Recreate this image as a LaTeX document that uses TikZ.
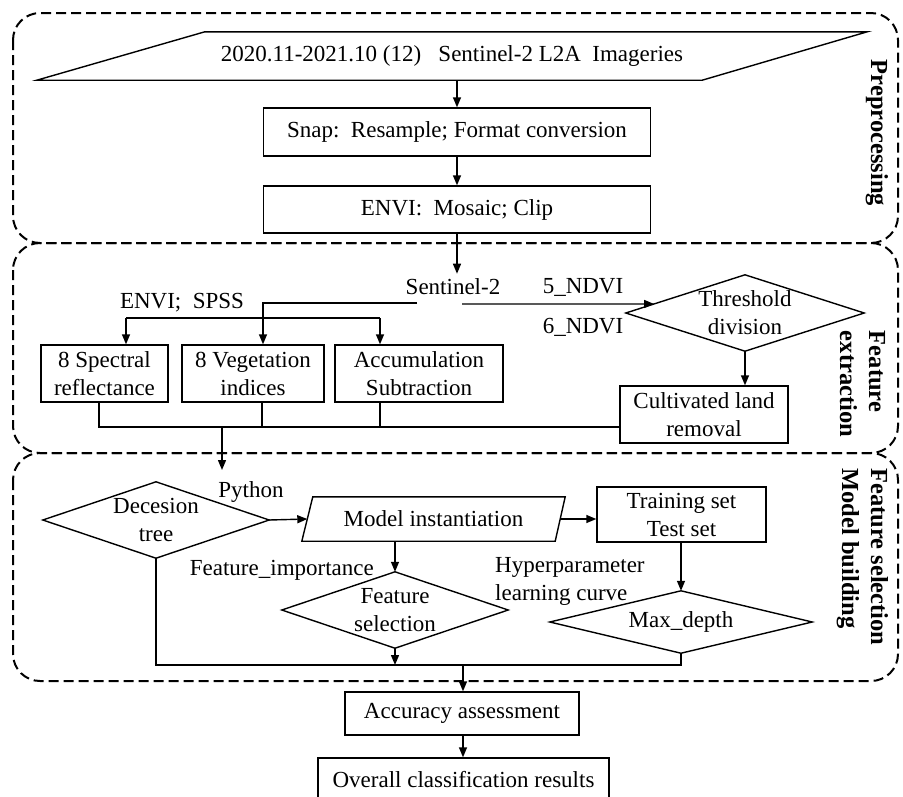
\documentclass[tikz,border=0pt]{standalone}
\usepackage{fontspec}
\setmainfont{Liberation Serif}
\usetikzlibrary{arrows.meta}
\newcommand\myfs{\fontsize{23}{28}\selectfont}
\newcommand\mybfs{\fontsize{24.5}{29}\selectfont\bfseries}
\begin{document}
\begin{tikzpicture}[x=1pt,y=-1pt,
  box/.style={draw, line width=1.4pt, rectangle, inner sep=0pt, align=center, font=\myfs},
  lbl/.style={inner sep=0pt, align=center, font=\myfs},
  conn/.style={line width=1.4pt},
  arr/.style={conn, -{Triangle[length=10pt,width=8pt]}},
  dbox/.style={line width=2pt, dash pattern=on 10pt off 5pt, rounded corners=27pt},
  side/.style={font=\mybfs, rotate=-90, align=left, inner sep=0pt}]
\useasboundingbox (0,0) rectangle (903,796);
\clip (0,0) rectangle (903,796);

% dashed group frames
\draw[dbox] (13,13) rectangle (898,243);
\draw[dbox] (13,243) rectangle (898,453);
\draw[dbox] (13,453) rectangle (898,681);
\node[side] (lpre) at (877,133) {Preprocessing};
\node[side] (lfe) at (862.5,384) {Feature\\extraction};
\node[side] (lfs) at (862.5,557) {Feature selection\\Model building};

% preprocessing
\node[lbl, minimum width=830pt, minimum height=48pt] (img) at (452,56) {2020.11-2021.10 (12)\ \ \ Sentinel-2 L2A\ \ Imageries};
\draw[conn] (img.south west) -- ([xshift=168pt]img.north west) -- (img.north east) -- ([xshift=-165pt]img.south east) -- cycle;
\node[box, minimum width=387pt, minimum height=48pt] (snap) at (457,132) {Snap:\ \ Resample; Format conversion};
\node[box, minimum width=387pt, minimum height=47pt] (envi) at (457,209.5) {ENVI:\ \ Mosaic; Clip};
\draw[arr] (snap.north |- img.south) -- (snap.north);
\draw[arr] (snap.south) -- (envi.north);

% feature extraction
\node[lbl, inner sep=5pt] (s2) at (453,287) {Sentinel-2};
\draw[arr] (envi.south) -- (envi.south |- s2.north);
\node[lbl] (envispss) at (182,303) {ENVI;\ \ SPSS};
\node[lbl] (n5) at (583,287) {5\_NDVI};
\node[lbl] (n6) at (583,327) {6\_NDVI};
\node[box, minimum width=127pt, minimum height=57pt] (spec) at (104.5,373.5) {8 Spectral\\reflectance};
\node[box, minimum width=142pt, minimum height=57pt] (veg) at (253,373.5) {8 Vegetation\\indices};
\node[box, minimum width=168pt, minimum height=57pt] (acc) at (419,373.5) {Accumulation\\Subtraction};
\node[lbl, minimum width=238pt, minimum height=76pt] (thr) at (745,313) {Threshold\\division};
\draw[conn] (thr.west) -- (thr.north) -- (thr.east) -- (thr.south) -- cycle;
\node[box, minimum width=168pt, minimum height=57pt] (cult) at (704,414.5) {Cultivated land\\removal};

\coordinate (s2l) at (417,303);
\coordinate (vx) at (263,303);
\draw[arr] (s2l) -- (vx) -- (vx |- veg.north);
\coordinate (bl) at (126,318);
\coordinate (br) at (380,318);
\draw[conn] (bl) -- (br);
\draw[arr] (bl) -- (bl |- spec.north);
\draw[arr] (br) -- (br |- acc.north);
\coordinate (s2r) at (462,304);
\path (thr.west) -- (thr.north) coordinate[pos=0.237] (thrin);
\draw[arr] (s2r) -- (thrin);
\draw[arr] (thr.south) -- (cult.north -| thr.south);

\coordinate (c1) at (99,427);
\coordinate (c2) at (262,427);
\coordinate (c3) at (380,427);
\coordinate (c4) at (222,427);
\draw[conn] (spec.south -| c1) -- (c1) -- (cult.west |- c1);
\draw[conn] (veg.south -| c2) -- (c2);
\draw[conn] (acc.south -| c3) -- (c3);
\coordinate (dtop) at (222,470);
\draw[arr] (c4) -- (dtop);

% feature selection / model building
\node[lbl, minimum width=226pt, minimum height=76pt] (dec) at (156,520) {Decesion\\tree};
\draw[conn] (dec.west) -- (dec.north) -- (dec.east) -- (dec.south) -- cycle;
\node[lbl] (py) at (251,492) {Python};
\node[lbl, minimum width=263pt, minimum height=44pt] (mod) at (433.5,519) {Model instantiation};
\draw[conn] (mod.south west) -- ([xshift=11pt]mod.north west) -- (mod.north east) -- ([xshift=-10pt]mod.south east) -- cycle;
\node[box, minimum width=169pt, minimum height=55pt] (train) at (681.5,514.5) {Training set\\Test set};
\node[lbl, minimum width=226pt, minimum height=76pt] (fs) at (395,610) {Feature\\selection};
\draw[conn] (fs.west) -- (fs.north) -- (fs.east) -- (fs.south) -- cycle;
\node[lbl, minimum width=262pt, minimum height=62pt] (maxd) at (681,622) {Max\_depth};
\draw[conn] (maxd.west) -- (maxd.north) -- (maxd.east) -- (maxd.south) -- cycle;
\node[lbl, anchor=east] (fi) at (374,570) {Feature\_importance};
\node[lbl, anchor=west, align=left] (hp) at (495,581) {Hyperparameter\\learning curve};

\draw[arr] (dec.east) -- ([xshift=5.5pt]mod.west);
\draw[arr] ([xshift=-5pt]mod.east) -- (train.west |- mod.east);
\draw[arr] (mod.south -| fs.north) -- (fs.north);
\draw[arr] (train.south -| maxd.north) -- (maxd.north);

\coordinate (cb) at (463,665);
\draw[conn] (dec.south) -- (dec.south |- cb) -- (maxd.south |- cb) -- (maxd.south);
\draw[arr] (fs.south) -- (fs.south |- cb);

% results
\node[box, minimum width=234pt, minimum height=43pt] (accu) at (462,713.5) {Accuracy assessment};
\node[box, minimum width=291pt, minimum height=44pt] (res) at (463.5,780) {Overall classification results};
\draw[arr] (cb) -- (cb |- accu.north);
\draw[arr] (accu.south -| cb) -- (res.north -| cb);
\end{tikzpicture}
\end{document}
